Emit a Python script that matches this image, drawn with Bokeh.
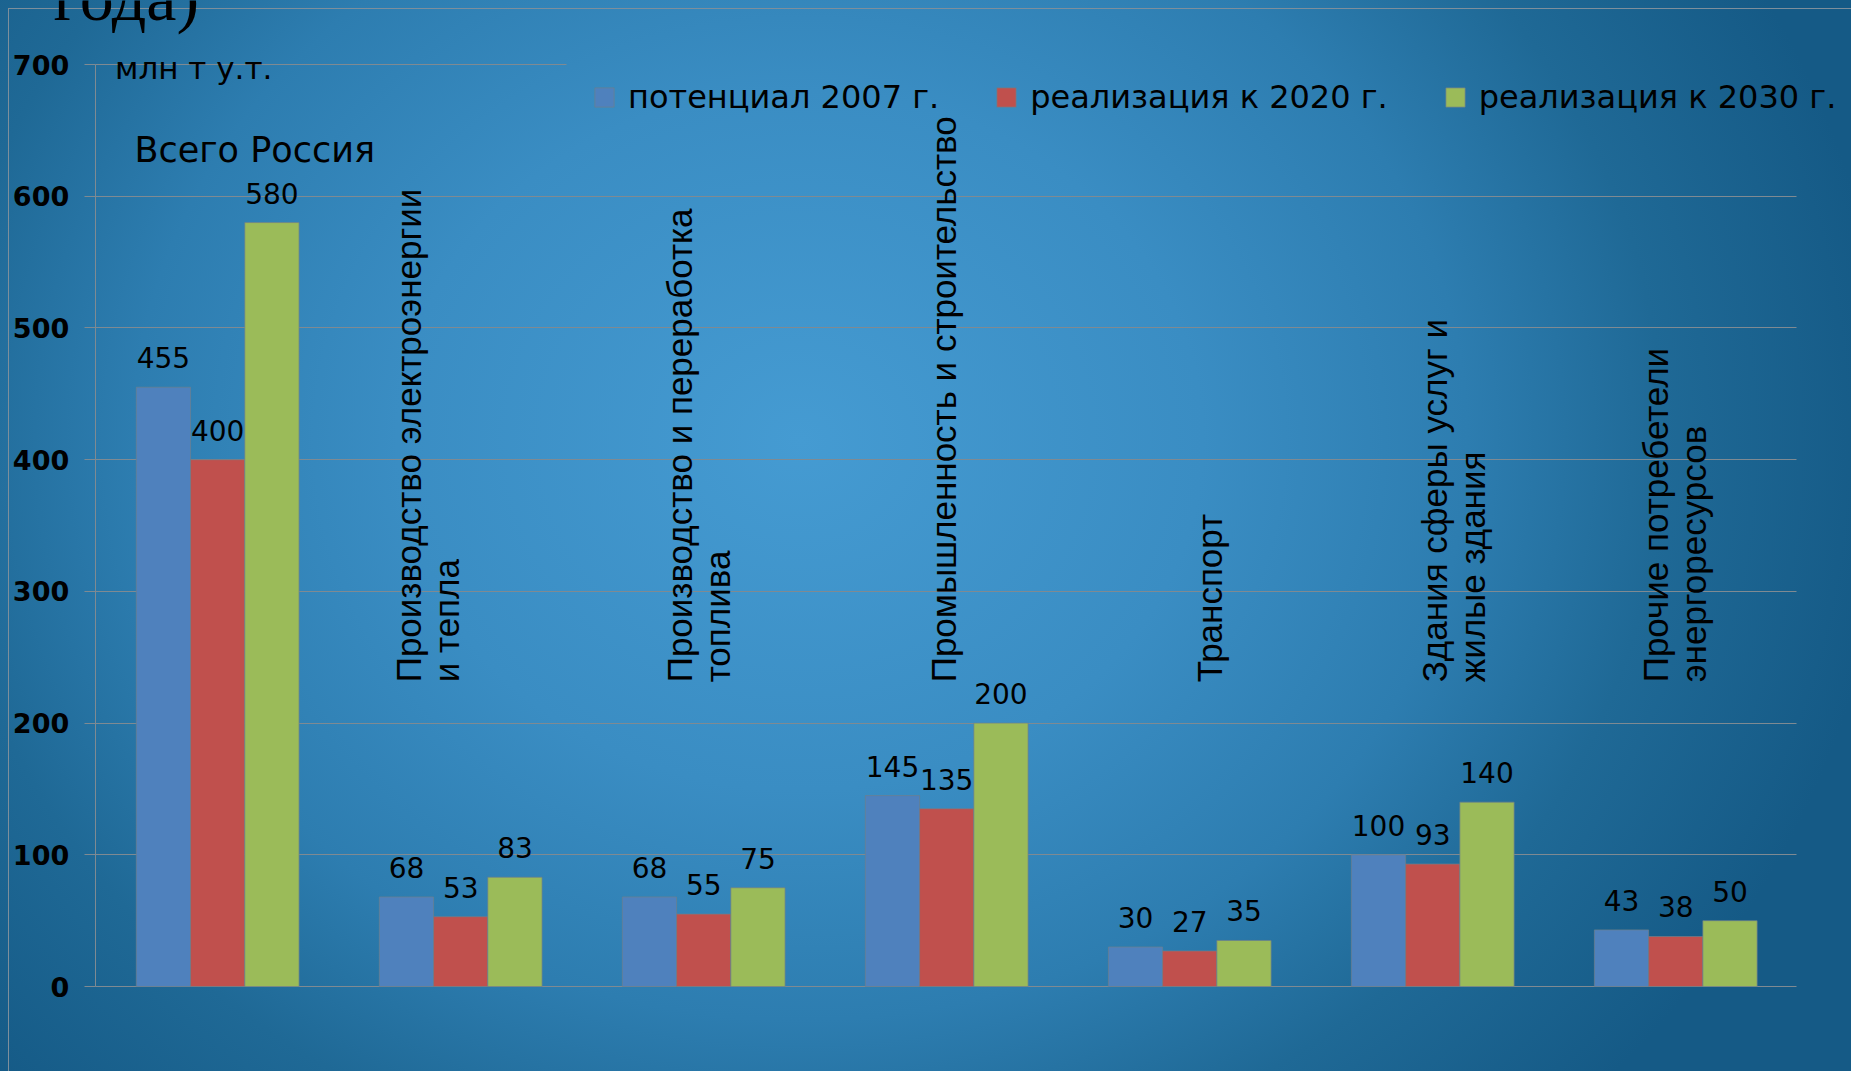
import math
from bokeh.plotting import figure
from bokeh.models import (Range1d, ColumnDataSource, Legend, LegendItem, Grid,
                          Label, LabelSet, FixedTicker, GlobalInlineStyleSheet)
from bokeh.core.properties import value
from bokeh.transform import dodge
from bokeh.embed import file_html
from bokeh.resources import INLINE

# ---------------- data ----------------
categories = [
    "Всего Россия",
    "Производство электроэнергии\nи тепла",
    "Производство и переработка\nтоплива",
    "Промышленность и строительство",
    "Транспорт",
    "Здания сферы услуг и\nжилые здания",
    "Прочие потребетели\nэнергоресурсов",
]
series = ["потенциал 2007 г.", "реализация к 2020 г.", "реализация к 2030 г."]
potential_2007 = [455, 68, 68, 145, 30, 100, 43]
realization_2020 = [400, 53, 55, 135, 27, 93, 38]
realization_2030 = [580, 83, 75, 200, 35, 140, 50]
y_ticks = [0, 100, 200, 300, 400, 500, 600, 700]
unit_label = "млн т у.т."
title_tail = "года)"

# ---------------- layout / styles ----------------
colors = ["#4F81BD", "#C0504D", "#9BBB59"]
group_gap = 1.48                     # empty space between groups, in bar widths
axis_x = -0.758                      # where the value axis stands
x_start, x_end = -2.504, 31.62       # visible x span (bar-width units)
grid_end, top_line_end = 30.61, 7.93 # right ends of grid lines
y_start, y_end = -64.5, 748.6        # visible y span
label_dx = [37, -33, -5, -3, 20, 21, -1]   # px offsets of category captions
caption_y_h = 635
caption_y_v = 231
grid_color = "#7f8a92"

W, H = 1851, 1071
p = figure(width=W, height=H, output_backend="svg", toolbar_location=None,
           x_range=Range1d(x_start, x_end), y_range=Range1d(y_start, y_end),
           x_axis_location=None,
           min_border_left=0, min_border_right=0, min_border_top=0, min_border_bottom=0)
p.background_fill_alpha = 0
p.border_fill_alpha = 0
p.outline_line_color = None

gx = [g * (len(series) + group_gap) + len(series) / 2 for g in range(len(categories))]
all_vals = [potential_2007, realization_2020, realization_2030]
renderers = []
for k, s in enumerate(series):
    src = ColumnDataSource(dict(gx=gx, top=all_vals[k], txt=[str(v) for v in all_vals[k]]))
    xk = dodge("gx", k - 1, range=p.x_range)
    r = p.vbar(x=xk, top="top", width=1.0, source=src, fill_color=colors[k],
               line_color="#6d7f8c", line_alpha=0.7, line_width=1)
    renderers.append(r)
    p.add_layout(LabelSet(x=xk, y="top", text="txt", source=src, y_offset=19,
                          text_align="center", text_baseline="alphabetic",
                          text_font=value("DejaVu Sans"), text_font_size="28px",
                          text_color="black"))

# grid & axis
p.xgrid.visible = False
yg = p.ygrid[0]
yg.ticker = FixedTicker(ticks=y_ticks[:-1])
yg.grid_line_color = grid_color
yg.grid_line_width = 1
if "cross_bounds" in yg.properties():
    yg.cross_bounds = (axis_x, grid_end)
    p.add_layout(Grid(dimension=1, ticker=FixedTicker(ticks=y_ticks[-1:]),
                      cross_bounds=(axis_x, top_line_end),
                      grid_line_color=grid_color, grid_line_width=1))
else:
    yg.visible = False
    p.segment(x0=[axis_x] * (len(y_ticks) - 1), y0=y_ticks[:-1],
              x1=[grid_end] * (len(y_ticks) - 1), y1=y_ticks[:-1],
              line_color=grid_color, line_width=1)
    p.segment(x0=[axis_x], y0=y_ticks[-1:], x1=[top_line_end], y1=y_ticks[-1:],
              line_color=grid_color, line_width=1)

ax = p.yaxis[0]
ax.fixed_location = axis_x
ax.ticker = FixedTicker(ticks=y_ticks)
ax.bounds = (y_ticks[0], y_ticks[-1])
ax.axis_line_color = grid_color
ax.major_tick_line_color = grid_color
ax.major_tick_out = 11
ax.major_tick_in = 0
ax.minor_tick_line_color = None
ax.major_label_standoff = 15
ax.major_label_text_font = "DejaVu Sans"
ax.major_label_text_font_style = "bold"
ax.major_label_text_font_size = "27px"
ax.major_label_text_color = "black"

# category captions
p.text(x=gx[:1], y=[caption_y_h], text=categories[:1], x_offset=label_dx[:1],
       text_align="center", text_baseline="middle", text_font=value("DejaVu Sans"),
       text_font_size="35px", text_color="black")
p.text(x=gx[1:], y=[caption_y_v] * (len(categories) - 1), text=categories[1:],
       x_offset=label_dx[1:], angle=math.pi / 2, text_align="left", text_baseline="middle",
       text_font=value("Liberation Sans"), text_font_size="35px", text_line_height=0.97,
       text_color="black")

# unit label and the cut-off end of the slide title
p.add_layout(Label(x=114.5, y=1003.5, x_units="screen", y_units="screen", text=unit_label,
                   text_font="DejaVu Sans", text_font_size="31px", text_color="black",
                   text_baseline="alphabetic"))
p.add_layout(Label(x=53, y=1075, x_units="screen", y_units="screen", text=title_tail,
                   text_font="Liberation Serif", text_font_size="68px",
                   text_color="black", text_baseline="alphabetic"))

legend = Legend(items=[LegendItem(label=s, renderers=[r]) for s, r in zip(series, renderers)],
                orientation="horizontal", location=(592, 955),
                glyph_width=24, glyph_height=24, label_standoff=12, spacing=55,
                padding=0, margin=0, border_line_color=None, background_fill_alpha=0,
                label_text_font="DejaVu Sans", label_text_font_size="32px",
                label_text_color="black", label_height=24)
p.add_layout(legend)

p.styles = {
    "background": "linear-gradient(#7d8f9c, #7d8f9c) 8px 8px / 100% 1px no-repeat, "
                  "linear-gradient(#7d8f9c, #7d8f9c) 8px 8px / 1px 100% no-repeat, "
                  "radial-gradient(1150px 1000px at 800px 440px, #459bd2 0%, #3a8dc3 35%, "
                  "#2d7db0 58%, #1f6996 75%, #155a86 95%)",
}
p.stylesheets = [GlobalInlineStyleSheet(
    css="html, body { margin: 0; padding: 0; overflow: hidden; background: #1a5e8a; }")]

open("out.html", "w").write(file_html(p, INLINE))
